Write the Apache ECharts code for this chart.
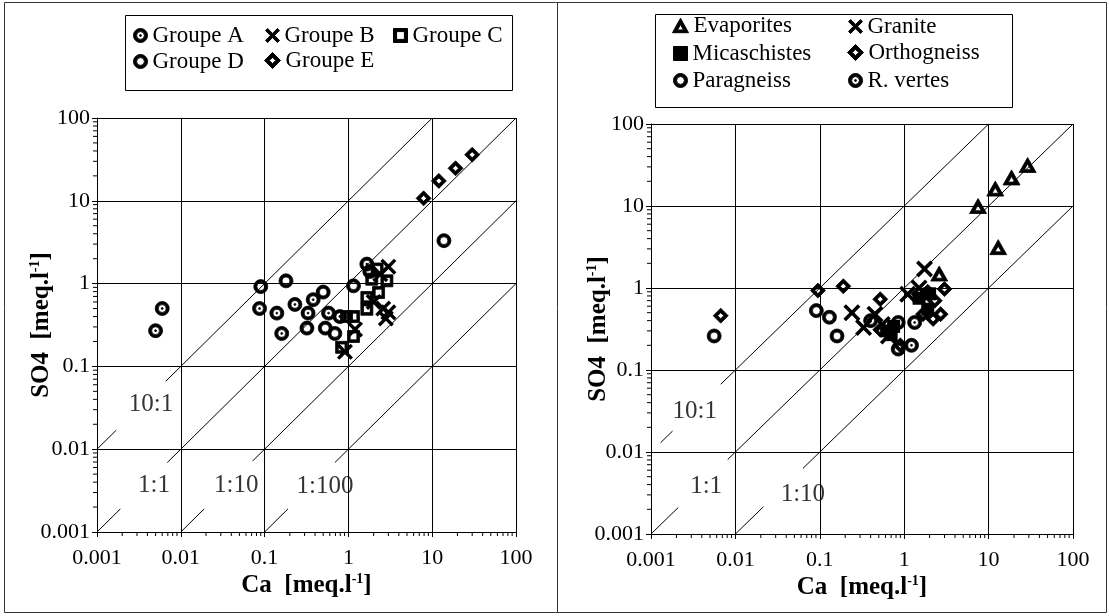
<!DOCTYPE html>
<html><head><meta charset="utf-8">
<script src="https://cdn.jsdelivr.net/npm/echarts@6/dist/echarts.min.js"></script>
<style>html,body{margin:0;padding:0;background:#fff}#c{width:1109px;height:616px}</style>
</head><body><div id="c"></div>
<script>
// ---------- axis ticks ----------
const tickLabels = ['0.001','0.01','0.1','1','10','100'];
const minorTicks = [0.002,0.003,0.004,0.005,0.006,0.007,0.008,0.009,
  0.02,0.03,0.04,0.05,0.06,0.07,0.08,0.09,
  0.2,0.3,0.4,0.5,0.6,0.7,0.8,0.9,
  2,3,4,5,6,7,8,9,
  20,30,40,50,60,70,80,90];
const AX_MIN = 0.001, AX_MAX = 100;

// ---------- left chart data [Ca, SO4] ----------
const groupeA = [[0.005,0.27],[0.006,0.5],[0.087,0.5],[0.14,0.44],[0.16,0.25],[0.23,0.56],[0.33,0.44],[0.38,0.64],[0.58,0.44],[0.79,0.4],[1.66,1.72]];
const groupeB = [[3.0,1.6],[2.4,1.3],[3.0,0.45],[2.6,0.5],[0.91,0.15],[1.2,0.28],[2.0,0.6],[2.8,0.38]];
const groupeC = [[1.15,0.4],[1.15,0.23],[0.83,0.17],[1.66,0.49],[1.66,0.68],[2.29,0.78],[2.88,1.08],[1.9,1.13],[0.95,0.4],[2.2,1.5]];
const groupeD = [[0.09,0.92],[0.18,1.08],[0.32,0.29],[0.5,0.79],[0.53,0.29],[0.69,0.25],[1.15,0.94],[13.8,3.3],[1.8,1.4]];
const groupeE = [[7.9,10.7],[12,17.4],[19,24.7],[30,36]];

// ---------- right chart data [Ca, SO4] ----------
const evaporites = [[7.5,10],[12,16.3],[18.7,22.3],[29,31.6],[13,3.15],[2.6,1.5]];
const granite = [[1.74,1.71],[1.1,0.84],[0.24,0.5],[0.33,0.33],[0.45,0.48],[0.65,0.26],[1.5,1.0],[0.55,0.36]];
const micaschistes = [[0.62,0.3],[0.75,0.34],[1.5,0.75],[1.9,0.55],[2.0,0.85],[0.7,0.27]];
const orthogneiss = [[0.0067,0.46],[0.095,0.93],[0.19,1.05],[0.52,0.73],[0.52,0.31],[3.0,0.97],[2.3,0.7],[1.67,0.48],[2.7,0.48],[2.2,0.42],[1.9,0.9],[0.9,0.2]];
const paragneiss = [[0.0056,0.26],[0.091,0.53],[0.13,0.44],[0.16,0.26],[0.85,0.18]];
const rvertes = [[0.85,0.38],[1.33,0.38],[1.22,0.2],[0.4,0.4]];

// ---------- ratio lines SO4 = ratio * Ca ----------
const leftRatios = [10, 1, 0.1, 0.01];
const leftMainStart = [0.0066, 0.0069, 0.072, 0.69];
const leftMainEnd = [10, 100, 100, 100];
const leftStubStart = [0.001, 0.001, 0.01, 0.1];
const leftStubEnd = [0.0017, 0.0019, 0.019, 0.19];
const leftLabelText = ['10:1','1:1','1:10','1:100'];
const leftLabelPos = [[0.0044,0.035],[0.0048,0.0037],[0.046,0.0037],[0.525,0.0036]];

const rightRatios = [10, 1, 0.1];
const rightMainStart = [0.0067, 0.0081, 0.063];
const rightMainEnd = [10, 100, 100];
const rightStubStart = [0.0013, 0.001, 0.01];
const rightStubEnd = [0.0018, 0.0021, 0.0215];
const rightLabelText = ['10:1','1:1','1:10'];
const rightLabelPos = [[0.0033,0.031],[0.0045,0.0038],[0.063,0.003]];

// ---------- symbols ----------
const SYM_RING = 'path://M0,5A5,5,0,1,1,10,5A5,5,0,1,1,0,5ZM2.2,5A2.8,2.8,0,1,0,7.8,5A2.8,2.8,0,1,0,2.2,5Z';
const SYM_RING_DOT = 'path://M0,5A5,5,0,1,1,10,5A5,5,0,1,1,0,5ZM2.2,5A2.8,2.8,0,1,0,7.8,5A2.8,2.8,0,1,0,2.2,5ZM4.3,5A0.7,0.7,0,1,1,5.7,5A0.7,0.7,0,1,1,4.3,5Z';
const SYM_DIAMOND = 'path://M5,0L10,5L5,10L0,5ZM5,3L3,5L5,7L7,5Z';
const SYM_SQUARE = 'path://M0,0L10,0L10,10L0,10ZM2.2,2.2L2.2,7.8L7.8,7.8L7.8,2.2Z';
const SYM_TRI = 'path://M5,0L10,9L0,9ZM5,3.9L3.1,7.3L6.9,7.3Z';
const SYM_CROSS = 'path://M0,1.5L1.5,0L5,3.5L8.5,0L10,1.5L6.5,5L10,8.5L8.5,10L5,6.5L1.5,10L0,8.5L3.5,5Z';
const SYM_RECT = 'path://M0,0L10,0L10,10L0,10Z';

const FONT = 'Liberation Serif';
const chart = echarts.init(document.getElementById('c'), null, {renderer:'canvas'});

function logLabel(v){ return tickLabels[Math.round(Math.log10(v)) + 3]; }
const nameRich = {
  b:{fontFamily:FONT, fontWeight:'bold', fontSize:25, color:'#000', lineHeight:28},
  s:{fontFamily:FONT, fontWeight:'bold', fontSize:14, color:'#000', lineHeight:28, verticalAlign:'top'}
};

function xAxisDef(gridIndex){
  return {
    type:'log', logBase:10, min:AX_MIN, max:AX_MAX, splitNumber:5, gridIndex,
    axisLine:{show:true, lineStyle:{color:'#000', width:1}},
    axisTick:{show:true, length:5, lineStyle:{color:'#000'}},
    axisLabel:{formatter:logLabel, color:'#000', fontFamily:FONT, fontSize:22, margin:15},
    splitLine:{show:true, lineStyle:{color:'#000', width:1}},
    name:'{b|Ca  [meq.l}{s|-1}{b|]}', nameLocation:'middle', nameGap:40, nameMoveOverlap:false,
    nameTextStyle:{rich:nameRich}
  };
}
function yAxisDef(gridIndex, gap){
  return {
    type:'log', logBase:10, min:AX_MIN, max:AX_MAX, splitNumber:5, gridIndex,
    axisLine:{show:true, lineStyle:{color:'#000', width:1}},
    axisTick:{show:true, length:5, lineStyle:{color:'#000'}},
    axisLabel:{formatter:logLabel, color:'#000', fontFamily:FONT, fontSize:22, margin:7},
    splitLine:{show:true, lineStyle:{color:'#000', width:1}},
    name:'{b|SO4  [meq.l}{s|-1}{b|]}', nameLocation:'middle', nameGap:gap, nameRotate:90, nameMoveOverlap:false,
    nameTextStyle:{rich:nameRich}
  };
}

function scatter(name, data, idx, symbol, size, bw){
  return {name, type:'scatter', data, xAxisIndex:idx, yAxisIndex:idx, symbol, symbolSize:size,
    itemStyle:{color:'#000', opacity:1, borderColor:'#000', borderWidth:bw||0}, z:5, silent:true, emphasis:{disabled:true}};
}
function segment(idx, ratio, a, b){
  return {type:'line', xAxisIndex:idx, yAxisIndex:idx, data:[[a, a*ratio],[b, b*ratio]],
    symbol:'none', silent:true, lineStyle:{color:'#000', width:1}, z:3, animation:false};
}
function minorTickSeries(idx){
  return {type:'custom', xAxisIndex:idx, yAxisIndex:idx, clip:false, silent:true, z:4,
    data:minorTicks.map(v=>[v,v]),
    renderItem:function(params, api){
      const v = api.value(0);
      const px = api.coord([v, AX_MIN]);
      const py = api.coord([AX_MIN, v]);
      return {type:'group', children:[
        {type:'line', shape:{x1:px[0],y1:px[1],x2:px[0],y2:px[1]+4}, style:{stroke:'#000',lineWidth:1}},
        {type:'line', shape:{x1:py[0],y1:py[1],x2:py[0]-4,y2:py[1]}, style:{stroke:'#000',lineWidth:1}}
      ]};
    }};
}
function labelSeries(idx, pos, texts){
  return {type:'scatter', xAxisIndex:idx, yAxisIndex:idx, data:pos, symbolSize:1, silent:true,
    itemStyle:{color:'rgba(0,0,0,0)'}, z:6,
    label:{show:true, position:'inside', formatter:p=>texts[p.dataIndex], color:'#000', fontFamily:FONT, fontSize:25}};
}

const series = [];
leftRatios.forEach((r,i)=>{ series.push(segment(0, r, leftMainStart[i], leftMainEnd[i])); series.push(segment(0, r, leftStubStart[i], leftStubEnd[i])); });
rightRatios.forEach((r,i)=>{ series.push(segment(1, r, rightMainStart[i], rightMainEnd[i])); series.push(segment(1, r, rightStubStart[i], rightStubEnd[i])); });
series.push(minorTickSeries(0), minorTickSeries(1));
series.push(labelSeries(0, leftLabelPos, leftLabelText), labelSeries(1, rightLabelPos, rightLabelText));
series.push(
  scatter('Groupe A', groupeA, 0, SYM_RING_DOT, 14, 0.8),
  scatter('Groupe B', groupeB, 0, SYM_CROSS, 16),
  scatter('Groupe C', groupeC, 0, SYM_SQUARE, 12, 0.8),
  scatter('Groupe D', groupeD, 0, SYM_RING, 14, 0.8),
  scatter('Groupe E', groupeE, 0, SYM_DIAMOND, 15, 0.8),
  scatter('Evaporites', evaporites, 1, SYM_TRI, [17,15], 0.8),
  scatter('Granite', granite, 1, SYM_CROSS, 17),
  scatter('Micaschistes', micaschistes, 1, SYM_RECT, 13),
  scatter('Orthogneiss', orthogneiss, 1, SYM_DIAMOND, 15, 0.8),
  scatter('Paragneiss', paragneiss, 1, SYM_RING, 14, 0.8),
  scatter('R. vertes', rvertes, 1, SYM_RING_DOT, 14, 0.8)
);

function leg(name, icon, left, top, sz){
  const s = sz || 14;
  return {data:[{name, icon}], left:left-(s-14)/2, top:top-(s-14)/2, padding:0, itemWidth:s, itemHeight:s, itemGap:0, selectedMode:false,
    itemStyle:{color:'#000', borderColor:'#000', borderWidth:1},
    textStyle:{fontFamily:FONT, fontSize:23, color:'#000'}};
}

chart.setOption({
  animation:false,
  backgroundColor:'#fff',
  grid:[
    {left:97, top:118, width:419, height:414},
    {left:651, top:124, width:422, height:410}
  ],
  xAxis:[xAxisDef(0), xAxisDef(1)],
  yAxis:[yAxisDef(0,41), yAxisDef(1,38)],
  legend:[
    leg('Groupe A',SYM_RING_DOT,133,24), leg('Groupe B',SYM_CROSS,265,24), leg('Groupe C',SYM_SQUARE,393,24),
    leg('Groupe D',SYM_RING,133,50), leg('Groupe E',SYM_DIAMOND,265,50,16),
    leg('Evaporites',SYM_TRI,673,15,16), leg('Granite',SYM_CROSS,848,15),
    leg('Micaschistes',SYM_RECT,673,42), leg('Orthogneiss',SYM_DIAMOND,848,42,16),
    leg('Paragneiss',SYM_RING,673,69), leg('R. vertes',SYM_RING_DOT,848,69)
  ],
  graphic:[
    {type:'rect', shape:{x:125.5,y:15.5,width:387,height:75}, style:{fill:null, stroke:'#000', lineWidth:1}, silent:true},
    {type:'rect', shape:{x:655.5,y:14.5,width:357,height:93}, style:{fill:null, stroke:'#000', lineWidth:1}, silent:true},
    {type:'rect', shape:{x:4.5,y:2.5,width:1102,height:610}, style:{fill:null, stroke:'#333', lineWidth:1}, silent:true},
    {type:'line', shape:{x1:557.5,y1:2,x2:557.5,y2:613}, style:{stroke:'#333', lineWidth:1}, silent:true}
  ],
  series
});
</script>
</body></html>
